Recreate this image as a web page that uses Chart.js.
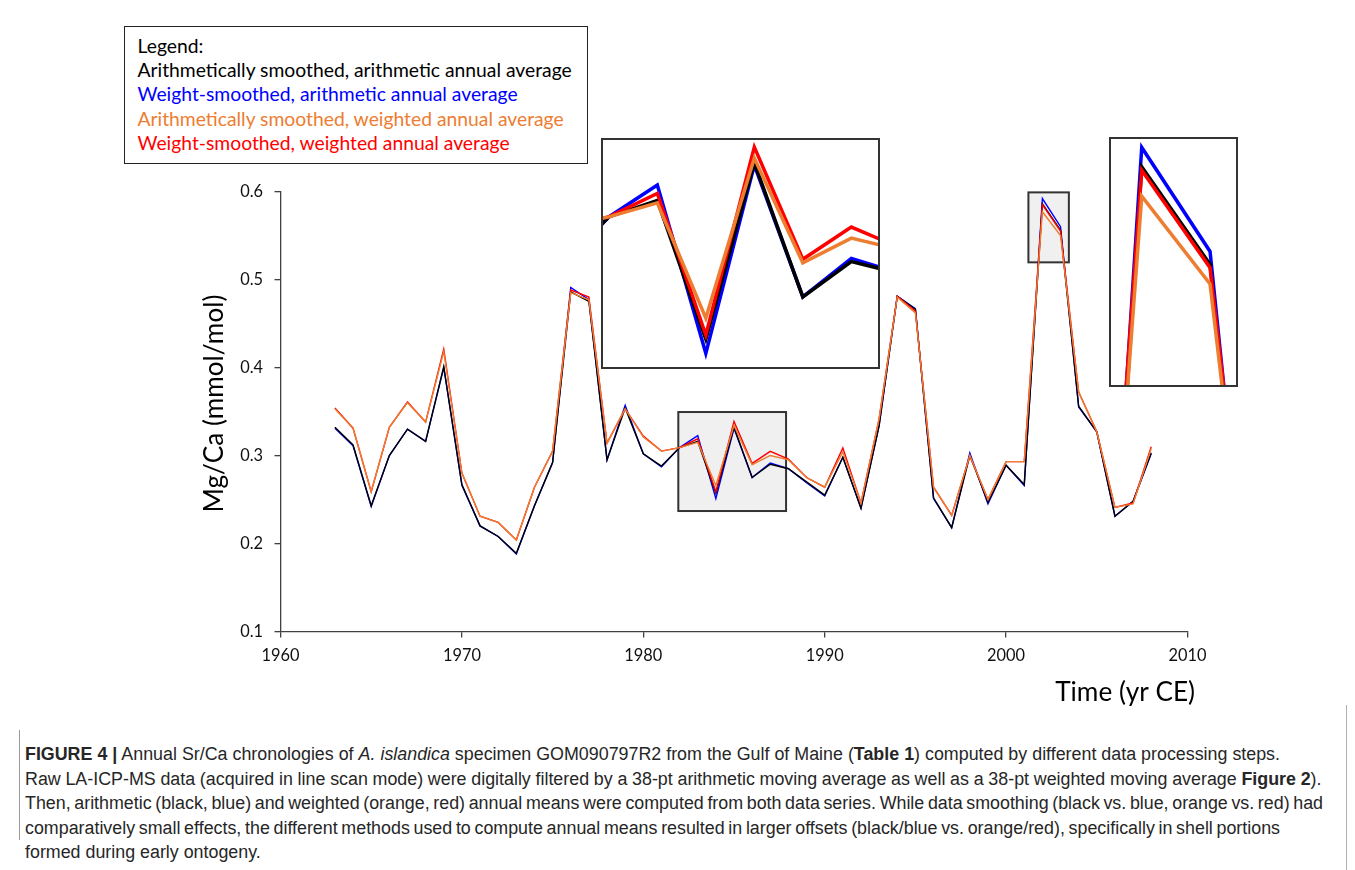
<!DOCTYPE html>
<html>
<head>
<meta charset="utf-8">
<title>Mg/Ca chronologies, GOM090797R2</title>
<script src="https://cdn.jsdelivr.net/npm/chart.js@4.4.1/dist/chart.umd.min.js"></script>
<style>
  html, body { margin: 0; padding: 0; background: #fff; }
  body { width: 1355px; height: 870px; position: relative; overflow: hidden; }
  #main { position: absolute; left: 0; top: 0; }
  .inset { position: absolute; box-sizing: border-box; border: 2px solid #333; background: #fff; }
  .inset canvas { display: block; }
  #insetA { left: 601px; top: 138px; width: 279px; height: 231px; }
  #insetB { left: 1109px; top: 137px; width: 129px; height: 250px; }
  #legendBox {
    position: absolute; left: 124px; top: 26px; width: 464px; height: 138px;
    box-sizing: border-box; border: 1.5px solid #222; background: #fff;
    padding: 7px 0 0 12.5px; font-family: Lato, sans-serif;
  }
  #legendBox div { height: 24.2px; line-height: 24.2px; white-space: nowrap; }
  #caption {
    position: absolute; left: 25px; top: 742px;
    font-family: "Liberation Sans", Arial, sans-serif; color: #262626;
  }
  #caption div { white-space: nowrap; height: 24.6px; line-height: 24.6px; }
  #captionBar { position: absolute; left: 19px; top: 730px; width: 1px; height: 110px; background: #9a9a9a; }
  #pageEdge { position: absolute; left: 1346px; top: 705px; width: 1px; height: 165px; background: #b0b0b0; }
</style>
</head>
<body>
<canvas id="main" width="1355" height="720"></canvas>

<div id="legendBox">
  <div style="color:#000">Legend:</div>
  <div style="color:#000">Arithmetically smoothed, arithmetic annual average</div>
  <div style="color:#0000ff">Weight-smoothed, arithmetic annual average</div>
  <div style="color:#ed7d31">Arithmetically smoothed, weighted annual average</div>
  <div style="color:#ff0000">Weight-smoothed, weighted annual average</div>
</div>

<div class="inset" id="insetA"><canvas id="cA" width="275" height="227"></canvas></div>
<div class="inset" id="insetB"><canvas id="cB" width="125" height="246"></canvas></div>

<div id="captionBar"></div>
<div id="pageEdge"></div>
<div id="caption">
  <div><span class="cl"><b>FIGURE 4 |</b> Annual Sr/Ca chronologies of <i>A. islandica</i> specimen GOM090797R2 from the Gulf of Maine (<b>Table 1</b>) computed by different data processing steps.</span></div>
  <div><span class="cl">Raw LA-ICP-MS data (acquired in line scan mode) were digitally filtered by a 38-pt arithmetic moving average as well as a 38-pt weighted moving average <b>Figure 2</b>).</span></div>
  <div><span class="cl">Then, arithmetic (black, blue) and weighted (orange, red) annual means were computed from both data series. While data smoothing (black vs. blue, orange vs. red) had</span></div>
  <div><span class="cl">comparatively small effects, the different methods used to compute annual means resulted in larger offsets (black/blue vs. orange/red), specifically in shell portions</span></div>
  <div><span class="cl">formed during early ontogeny.</span></div>
</div>

<script>
// Annual Mg/Ca (mmol/mol), one value per growth year
const years = [1963,1964,1965,1966,1967,1968,1969,1970,1971,1972,1973,1974,1975,1976,1977,1978,1979,1980,1981,1982,1983,1984,1985,1986,1987,1988,1989,1990,1991,1992,1993,1994,1995,1996,1997,1998,1999,2000,2001,2002,2003,2004,2005,2006,2007,2008];

// arithmetically smoothed, arithmetic annual average (black)
const arithSmoothArithMean = [0.332,0.312,0.243,0.300,0.330,0.316,0.401,0.267,0.220,0.208,0.189,0.243,0.292,0.486,0.475,0.295,0.354,0.302,0.288,0.309,0.316,0.257,0.332,0.275,0.290,0.285,0.270,0.255,0.298,0.240,0.334,0.481,0.466,0.252,0.218,0.300,0.247,0.289,0.267,0.586,0.556,0.356,0.327,0.231,0.248,0.303];

// weight-smoothed, arithmetic annual average (blue)
const weightSmoothArithMean = [0.331,0.311,0.242,0.300,0.330,0.316,0.400,0.266,0.220,0.208,0.188,0.243,0.292,0.491,0.477,0.295,0.357,0.302,0.287,0.309,0.3226,0.251,0.331,0.275,0.2914,0.285,0.269,0.254,0.298,0.240,0.334,0.481,0.467,0.251,0.218,0.303,0.245,0.289,0.266,0.592,0.560,0.355,0.327,0.231,0.248,0.302];

// arithmetically smoothed, weighted annual average (orange)
const arithSmoothWeightMean = [0.353,0.331,0.259,0.332,0.360,0.338,0.418,0.280,0.231,0.224,0.204,0.264,0.305,0.485,0.477,0.314,0.353,0.321,0.305,0.309,0.315,0.266,0.334,0.2895,0.300,0.295,0.275,0.264,0.304,0.246,0.342,0.480,0.462,0.264,0.232,0.300,0.250,0.293,0.293,0.577,0.550,0.372,0.327,0.241,0.245,0.308];

// weight-smoothed, weighted annual average (red)
const weightSmoothWeightMean = [0.354,0.331,0.259,0.332,0.361,0.338,0.421,0.280,0.231,0.224,0.204,0.264,0.305,0.488,0.480,0.314,0.353,0.322,0.305,0.309,0.319,0.2588,0.3387,0.291,0.3047,0.296,0.275,0.264,0.3086,0.246,0.342,0.481,0.464,0.264,0.232,0.300,0.250,0.293,0.293,0.585,0.555,0.372,0.327,0.241,0.246,0.310];

// axis ticks
const xTickValues = [1960,1970,1980,1990,2000,2010];
const yTickValues = [0.1,0.2,0.3,0.4,0.5,0.6];

// shaded windows on the main plot and the ranges shown enlarged in the two insets
const windowA = { xMin: 1981.93, xMax: 1987.87, yMin: 0.2369, yMax: 0.3494 };
const windowB = { xMin: 2001.23, xMax: 2003.46, yMin: 0.5195, yMax: 0.5990 };
const insetAView = { xMin: 1981.88, xMax: 1987.55, yMin: 0.2452, yMax: 0.3417 };
const insetBView = { xMin: 2001.55, xMax: 2003.38, yMin: 0.5189, yMax: 0.5946 };

const seriesDefs = [
  { label: 'Arithmetically smoothed, arithmetic annual average', values: arithSmoothArithMean, color: '#000000', order: 2 },
  { label: 'Weight-smoothed, arithmetic annual average', values: weightSmoothArithMean, color: '#0000ff', order: 3 },
  { label: 'Arithmetically smoothed, weighted annual average', values: arithSmoothWeightMean, color: '#ed7d31', order: 0 },
  { label: 'Weight-smoothed, weighted annual average', values: weightSmoothWeightMean, color: '#ff0000', order: 1 }
];

function makeDatasets(width) {
  return seriesDefs.map(s => ({
    label: s.label,
    data: years.map((yr, i) => ({ x: yr, y: s.values[i] })),
    borderColor: s.color,
    backgroundColor: s.color,
    borderWidth: width,
    order: s.order,
    pointRadius: 0,
    tension: 0,
    fill: false,
    borderJoinStyle: 'miter',
    clip: 0
  }));
}

function fitSize(text, family, weight, target) {
  const c = document.createElement('canvas').getContext('2d');
  c.font = weight + ' 100px ' + family;
  return 100 * target / c.measureText(text).width;
}

const chartFont = 'Lato';
const tickSize = fitSize('1960', chartFont, 'normal', 38);
const titleSize = fitSize('Mg/Ca (mmol/mol)', chartFont, 'normal', 218);
const legendSize = fitSize('Arithmetically smoothed, arithmetic annual average', chartFont, 'normal', 435);
document.getElementById('legendBox').style.fontSize = legendSize + 'px';

// grey rectangles marking the enlarged windows (drawn beneath the lines)
const windowPlugin = {
  id: 'zoomWindows',
  beforeDatasetsDraw(chart) {
    const { ctx, scales: { x, y } } = chart;
    ctx.save();
    [windowA, windowB].forEach(w => {
      const l = x.getPixelForValue(w.xMin), r = x.getPixelForValue(w.xMax);
      const t = y.getPixelForValue(w.yMax), b = y.getPixelForValue(w.yMin);
      ctx.fillStyle = '#f0f0f0';
      ctx.fillRect(l, t, r - l, b - t);
      ctx.strokeStyle = '#333';
      ctx.lineWidth = 2;
      ctx.strokeRect(l, t, r - l, b - t);
    });
    ctx.restore();
  }
};

// axis titles
const axisTitlePlugin = {
  id: 'axisTitles',
  afterDraw(chart) {
    const { ctx, chartArea: a } = chart;
    ctx.save();
    ctx.fillStyle = '#000';
    ctx.font = titleSize + 'px ' + chartFont;
    ctx.textBaseline = 'middle';
    ctx.textAlign = 'right';
    ctx.fillText('Time (yr CE)', a.right + 7.5, a.bottom + 61);
    ctx.translate(a.left - 66, (a.top + a.bottom) / 2 - 8);
    ctx.rotate(-Math.PI / 2);
    ctx.textAlign = 'center';
    ctx.fillText('Mg/Ca (mmol/mol)', 0, 0);
    ctx.restore();
  }
};

const axisColor = '#404040';

new Chart(document.getElementById('main'), {
  type: 'line',
  data: { datasets: makeDatasets(1.4) },
  options: {
    responsive: false,
    animation: false,
    devicePixelRatio: 1,
    layout: { padding: { left: 0, top: 191.5, right: 167.5, bottom: 0 } },
    plugins: { legend: { display: false }, tooltip: { enabled: false } },
    scales: {
      x: {
        type: 'linear', min: 1960, max: 2010,
        afterBuildTicks: s => { s.ticks = xTickValues.map(v => ({ value: v })); },
        afterFit: s => { s.height = 88.5; },
        grid: { drawOnChartArea: false, drawTicks: true, tickLength: 6, color: axisColor, lineWidth: 1.3 },
        border: { display: true, color: axisColor, width: 1.3 },
        ticks: { padding: 8, autoSkip: false, maxRotation: 0, color: '#111',
                 font: { family: chartFont, size: tickSize }, callback: v => String(v) }
      },
      y: {
        type: 'linear', min: 0.1, max: 0.6,
        afterBuildTicks: s => { s.ticks = yTickValues.map(v => ({ value: v })); },
        afterFit: s => { s.width = 280.5; },
        grid: { drawOnChartArea: false, drawTicks: true, tickLength: 6, color: axisColor, lineWidth: 1.3 },
        border: { display: true, color: axisColor, width: 1.3 },
        ticks: { padding: 11.5, color: '#111',
                 font: { family: chartFont, size: tickSize }, callback: v => v.toFixed(1) }
      }
    }
  },
  plugins: [windowPlugin, axisTitlePlugin]
});

function insetChart(id, view, width) {
  new Chart(document.getElementById(id), {
    type: 'line',
    data: { datasets: makeDatasets(width) },
    options: {
      responsive: false,
      animation: false,
      devicePixelRatio: 1,
      layout: { padding: 0 },
      plugins: { legend: { display: false }, tooltip: { enabled: false } },
      scales: {
        x: { type: 'linear', display: false, min: view.xMin, max: view.xMax },
        y: { type: 'linear', display: false, min: view.yMin, max: view.yMax }
      }
    }
  });
}
insetChart('cA', insetAView, 3.5);
insetChart('cB', insetBView, 3.5);

// caption: font sized from the first line, then word spacing set per line so
// each justified-looking line ends where the text block does
(function () {
  const cap = document.getElementById('caption');
  const lines = Array.from(cap.querySelectorAll('.cl'));
  const lineWidths = [1255, 1296.5, 1298, 1255, null];
  cap.style.fontSize = '17px';
  const w0 = lines[0].getBoundingClientRect().width;
  cap.style.fontSize = (17 * lineWidths[0] / w0) + 'px';
  lines.forEach((el, i) => {
    const target = lineWidths[i];
    if (!target) return;
    const w = el.getBoundingClientRect().width;
    const spaces = (el.textContent.match(/ /g) || []).length;
    if (spaces) el.style.wordSpacing = ((target - w) / spaces) + 'px';
  });
})();
</script>
</body>
</html>
